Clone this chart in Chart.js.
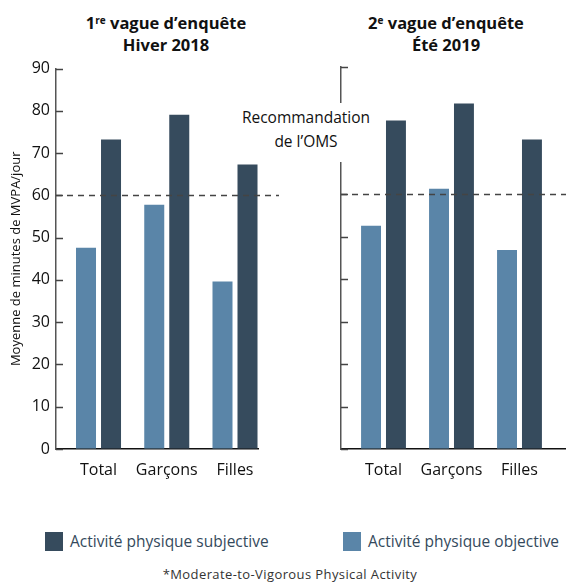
<!DOCTYPE html>
<html>
<head>
<meta charset="utf-8">
<script src="https://cdn.jsdelivr.net/npm/chart.js@4.4.1/dist/chart.umd.min.js"></script>
<style>
  body { margin: 0; background: #fff; font-family: "Open Sans", sans-serif; }
  #wrap { position: relative; width: 566px; height: 583px; overflow: hidden; }
  canvas { position: absolute; }
  .title { position: absolute; top: 12px; width: 200px; text-align: center; font-weight: bold; font-size: 16.5px; line-height: 22px; color: #111; }
  .title sup { font-size: 10px; vertical-align: top; position: relative; top: -3px; }
  #oms { position: absolute; left: 236px; top: 103px; width: 140px; height: 59px; background: #fff; text-align: center; font-size: 15.5px; line-height: 24px; color: #111; padding-top: 2px; box-sizing: border-box; }
  .leg { position: absolute; top: 532px; font-size: 15.5px; color: #34495c; line-height: 19px; }
  .leg span { display: inline-block; width: 18px; height: 19px; vertical-align: top; margin-right: 7px; }
  #note { position: absolute; top: 565px; left: 0; width: 580px; text-align: center; font-size: 13px; color: #333; letter-spacing: 0.4px; }
</style>
</head>
<body>
<div id="wrap">
  <div class="title" style="left:66px">1<sup>re</sup> vague d’enquête<br>Hiver 2018</div>
  <div class="title" style="left:346px">2<sup>e</sup> vague d’enquête<br>Été 2019</div>
  <canvas id="c1" width="283" height="447" style="left:0;top:53px"></canvas>
  <canvas id="c2" width="283" height="445" style="left:283px;top:55px"></canvas>
  <div id="oms">Recommandation<br>de l’OMS</div>
  <div class="leg" style="left:45px"><span style="background:#364b5d"></span>Activité physique subjective</div>
  <div class="leg" style="left:343px"><span style="background:#5a85a8"></span>Activité physique objective</div>
  <div id="note">*Moderate-to-Vigorous Physical Activity</div>
</div>
<script>
const categories = ['Total', 'Garçons', 'Filles'];

// vague 1 - hiver 2018
const objectif2018 = [47.6, 57.8, 39.6];
const subjectif2018 = [73.2, 79.1, 67.3];

// vague 2 - été 2019
const objectif2019 = [52.6, 61.3, 46.9];
const subjectif2019 = [77.4, 81.4, 72.9];

const recommandation = 60;
const yTicks = [0, 10, 20, 30, 40, 50, 60, 70, 80, 90];

const colObj = '#5a85a8';
const colSubj = '#364b5d';

// petits traits des graduations, vers l'intérieur
const ticksPlugin = {
  id: 'innerTicks',
  beforeDatasetsDraw(chart) {
    const y = chart.scales.y;
    const ctx = chart.ctx;
    ctx.save();
    ctx.strokeStyle = '#444';
    ctx.lineWidth = 1.5;
    ctx.beginPath();
    y.ticks.forEach(t => {
      const py = Math.round(y.getPixelForValue(t.value)) + 0.5;
      ctx.moveTo(y.right, py);
      ctx.lineTo(y.right + 7, py);
    });
    ctx.stroke();
    ctx.restore();
  }
};

// ligne pointillée de la recommandation OMS
function omsLine(extendTo) {
  return {
    id: 'omsLine',
    afterDatasetsDraw(chart) {
      const y = chart.scales.y;
      const ctx = chart.ctx;
      const py = Math.round(y.getPixelForValue(recommandation)) + 0.5;
      ctx.save();
      ctx.strokeStyle = '#444';
      ctx.lineWidth = 1.5;
      ctx.setLineDash([6, 5]);
      ctx.beginPath();
      ctx.moveTo(chart.chartArea.left, py);
      ctx.lineTo(extendTo(chart), py);
      ctx.stroke();
      ctx.restore();
    }
  };
}

function makeChart(id, obj, subj, opts) {
  return new Chart(document.getElementById(id), {
    type: 'bar',
    data: {
      datasets: [{
        label: 'Activité physique objective',
        data: obj.map((v, i) => ({ x: i, y: v })),
        backgroundColor: colObj
      }, {
        label: 'Activité physique subjective',
        data: subj.map((v, i) => ({ x: i, y: v })),
        backgroundColor: colSubj
      }]
    },
    options: {
      responsive: false,
      animation: false,
      devicePixelRatio: 1,
      barPercentage: 0.8,
      categoryPercentage: 0.733,
      layout: { padding: { top: 12, right: opts.padRight, left: 0, bottom: 0 } },
      plugins: { legend: { display: false }, tooltip: { enabled: false } },
      scales: {
        x: {
          type: 'linear',
          offset: false,
          min: opts.xMin,
          max: opts.xMax,
          afterBuildTicks: s => { s.ticks = categories.map((c, i) => ({ value: i })); },
          afterFit: s => { s.height = 51; },
          ticks: {
            autoSkip: false,
            maxRotation: 0,
            padding: 12,
            color: '#111',
            font: { family: 'Open Sans', size: 16 },
            callback: v => categories[v]
          },
          grid: { offset: false, drawOnChartArea: false, drawTicks: false },
          border: { color: '#111', width: 1.5 }
        },
        y: {
          min: 0,
          max: 90,
          afterBuildTicks: s => { s.ticks = yTicks.map(v => ({ value: v })); },
          afterFit: s => { s.width = opts.yWidth; },
          ticks: {
            display: opts.showLabels,
            padding: 6,
            color: '#111',
            font: { family: 'Open Sans', size: 16 }
          },
          title: {
            display: opts.showLabels,
            text: 'Moyenne de minutes de MVPA/jour',
            color: '#111',
            font: { family: 'Open Sans', size: 13 },
            padding: { top: 8, bottom: 0 }
          },
          grid: { drawOnChartArea: false, drawTicks: false },
          border: { color: '#555', width: 1.5 }
        }
      }
    },
    plugins: [ticksPlugin, omsLine(opts.lineEnd)]
  });
}

makeChart('c1', objectif2018, subjectif2018, {
  xMin: -0.623, xMax: 2.337, yWidth: 56, padRight: 25, showLabels: true,
  lineEnd: chart => chart.width - 4
});

makeChart('c2', objectif2019, subjectif2019, {
  xMin: -0.625, xMax: 2.684, yWidth: 58, padRight: 0, showLabels: false,
  lineEnd: chart => chart.chartArea.right
});
</script>
</body>
</html>
